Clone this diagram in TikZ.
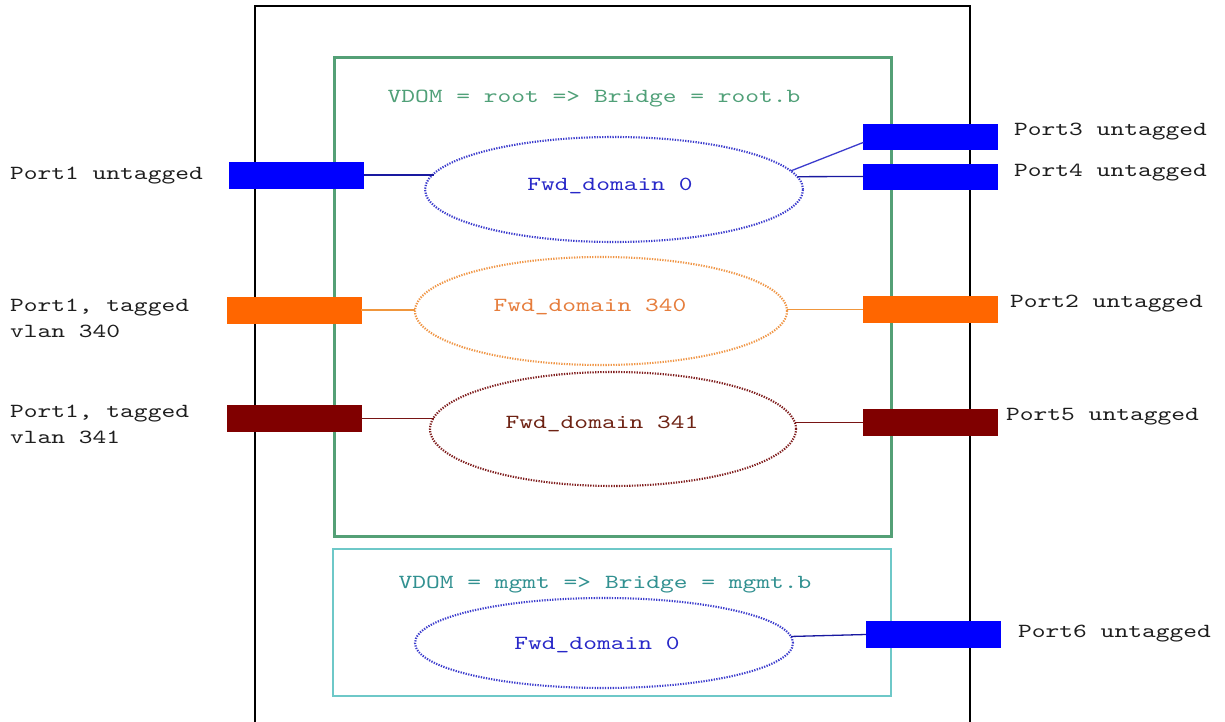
\documentclass[tikz,border=0pt]{standalone}
\usepackage{fontspec}
\newfontfamily\cour[FakeStretch=1.31]{lmmono10-regular.otf}
\usetikzlibrary{shapes.geometric}
\definecolor{rootgreen}{RGB}{84,160,118}
\definecolor{roottext}{RGB}{80,160,120}
\definecolor{mgmtline}{RGB}{110,200,200}
\definecolor{mgmttext}{RGB}{50,145,145}
\definecolor{pblue}{RGB}{0,0,255}
\definecolor{porange}{RGB}{255,102,0}
\definecolor{pred}{RGB}{128,0,0}
\definecolor{eblue}{RGB}{60,60,205}
\definecolor{eorange}{RGB}{240,150,70}
\definecolor{ered}{RGB}{128,30,30}
\definecolor{tblue}{RGB}{40,40,200}
\definecolor{torange}{RGB}{230,125,60}
\definecolor{tred}{RGB}{110,35,20}
\definecolor{ltext}{RGB}{30,30,30}
\definecolor{lblue}{RGB}{25,25,160}
\definecolor{lorange}{RGB}{240,150,60}
\definecolor{lred}{RGB}{120,20,20}
\begin{document}
\begin{tikzpicture}[x=1pt,y=-1pt,
  txt/.style={font=\cour\fontsize{20}{26}\selectfont, inner sep=0, align=left},
  port/.style={draw=#1, fill=#1, line width=0.8pt, minimum width=134pt, minimum height=26pt, inner sep=0, outer sep=0},
  fwd/.style={ellipse, draw=#1, line width=2.1pt, dash pattern=on 1.3pt off 1.3pt, inner sep=0, outer sep=0},
  conn/.style={line width=1.3pt, draw=#1}]
\useasboundingbox (0,0) rectangle (1225,722);
\fill[white] (0,0) rectangle (1225,722);
% outer box
\draw[line width=1.2pt, black] (255,730) -- (255,6) -- (970,6) -- (970,730);
% VDOM boxes
\draw[line width=3pt, rootgreen] (334,58) rectangle (891,536);
\draw[line width=1.5pt, mgmtline] (333,549) rectangle (891,696);
\node[txt, anchor=base, text=roottext] (vroot) at (594,103) {VDOM = root => Bridge = root.b};
\node[txt, anchor=base, text=mgmttext] (vmgmt) at (605,588) {VDOM = mgmt => Bridge = mgmt.b};
% forwarding domains
\node[fwd=eblue, minimum width=378pt, minimum height=105pt] (e0) at (614,189.5) {};
\node[fwd=eorange, minimum width=372pt, minimum height=108pt] (e340) at (601,311) {};
\node[fwd=ered, minimum width=366pt, minimum height=114pt] (e341) at (613,429) {};
\node[fwd=eblue, minimum width=378pt, minimum height=90pt] (emg) at (604,643) {};
\node[txt, anchor=base, text=tblue] (t0) at (610,190) {Fwd\_domain 0};
\node[txt, anchor=base, text=torange] (t340) at (590,311) {Fwd\_domain 340};
\node[txt, anchor=base, text=tred] (t341) at (602,428) {Fwd\_domain 341};
\node[txt, anchor=base, text=tblue] (tmg) at (597,649) {Fwd\_domain 0};
% ports
\node[port=pblue] (p1) at (296.5,175) {};
\node[port=porange] (p1a) at (294,310) {};
\node[port=pred] (p1b) at (294,418.5) {};
\node[port=pblue, minimum height=25pt] (p3) at (930.5,136.5) {};
\node[port=pblue, minimum height=25pt] (p4) at (930.5,176.5) {};
\node[port=porange] (p2) at (930,309.5) {};
\node[port=pred] (p5) at (930,422.5) {};
\node[port=pblue] (p6) at (933,634.5) {};
% port labels
\node[txt, anchor=base west, text=ltext] (l1) at (10,179) {Port1 untagged};
\node[txt, anchor=base west, text=ltext] (l1a) at (10,337) {Port1, tagged\\vlan 340};
\node[txt, anchor=base west, text=ltext] (l1b) at (10,443) {Port1, tagged\\vlan 341};
\node[txt, anchor=base west, text=ltext] (l3) at (1014,136) {Port3 untagged};
\node[txt, anchor=base west, text=ltext] (l4) at (1014,176) {Port4 untagged};
\node[txt, anchor=base west, text=ltext] (l2) at (1010,307) {Port2 untagged};
\node[txt, anchor=base west, text=ltext] (l5) at (1006,420) {Port5 untagged};
\node[txt, anchor=base west, text=ltext] (l6) at (1018,637) {Port6 untagged};
% connectors
\draw[conn=lblue] (p1.east) -- (p1.east -| e0.175.5);
\draw[conn=eblue] (e0.6) -- (p3.185);
\draw[conn=lblue] (e0.4) -- (p4.west);
\draw[conn=lorange] (p1a.east) -- (p1a.east -| e340.west);
\draw[conn=lorange] (p2.west -| e340.east) -- (p2.west);
\draw[conn=lred] (p1b.east) -- (p1b.east -| e341.176.7);
\draw[conn=lred] (p5.west -| e341.2) -- (p5.west);
\draw[conn=lblue] (emg.2.7) -- (p6.west);
\end{tikzpicture}
\end{document}
